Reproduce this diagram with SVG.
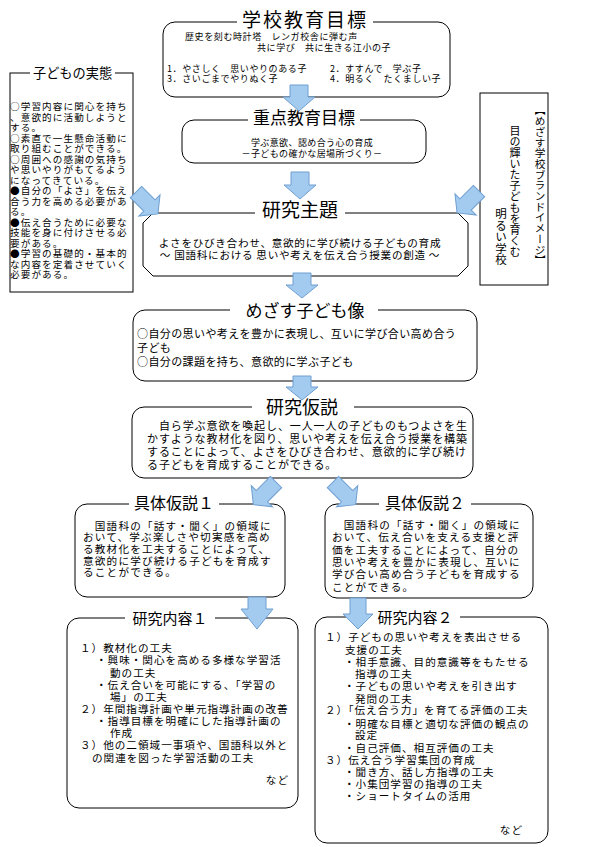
<svg xmlns="http://www.w3.org/2000/svg" width="600" height="847" viewBox="0 0 600 847">
<style>
.box{fill:#fff;stroke:#000;stroke-width:1}
.bg{fill:#fff}
text{font-family:"Noto Sans CJK JP","Noto Sans CJK SC",sans-serif;fill:#000}
.ttl{text-anchor:middle}
.arr{fill:#a3cbf0;stroke:#6f9fd0;stroke-width:1}
.vt{writing-mode:vertical-rl}
</style>
<defs>
<path id="d31" d="M-8,0 H8 V19 H15 L0,31 L-15,19 H-8 Z"/>
<path id="d32" d="M-8,0 H8 V20 H15 L0,32 L-15,20 H-8 Z"/>
</defs>
<rect width="600" height="847" fill="#fff"/>

<g id="gakko">
<rect class="box" x="163" y="22" width="287" height="75" rx="12"/>
<rect class="bg" x="237" y="11" width="136" height="20"/>
<text class="ttl" x="305" y="27" font-size="19" letter-spacing="2">学校教育目標</text>
<g font-size="9" letter-spacing="0.6">
<text x="185" y="40">歴史を刻む時計塔　レンガ校舎に弾む声</text>
<text x="257" y="51">共に学び　共に生きる江小の子</text>
<text x="167" y="72">1．やさしく　思いやりのある子</text>
<text x="330" y="72">2．すすんで　学ぶ子</text>
<text x="167" y="82">3．さいごまでやりぬく子</text>
<text x="330" y="82">4．明るく　たくましい子</text>
</g>
</g>

<g id="juten">
<rect class="box" x="182" y="120" width="244" height="43" rx="12"/>
<rect class="bg" x="248" y="108" width="112" height="20"/>
<text class="ttl" x="304" y="123.5" font-size="17">重点教育目標</text>
<text class="ttl" x="312" y="146" font-size="9" letter-spacing="0.4">学ぶ意欲、認め合う心の育成</text>
<text class="ttl" x="312" y="157" font-size="9" letter-spacing="0.4">－子どもの確かな居場所づくり－</text>
</g>

<g id="jittai">
<rect class="box" x="10" y="73" width="123" height="219"/>
<rect class="bg" x="30" y="64" width="85" height="18"/>
<text x="33" y="78" font-size="13.2">子どもの実態</text>
<g font-size="9.6" letter-spacing="1.1">
<text x="10" y="110">○学習内容に関心を持ち</text>
<text x="10" y="120.5">、意欲的に活動しようと</text>
<text x="10" y="131">する。</text>
<text x="10" y="141.5">○素直で一生懸命活動に</text>
<text x="10" y="152">取り組むことができる。</text>
<text x="10" y="162.5">○周囲への感謝の気持ち</text>
<text x="10" y="173">や思いやりがもてるよう</text>
<text x="10" y="183.5">になってきている。</text>
<text x="10" y="194">●自分の「よさ」を伝え</text>
<text x="10" y="204.5">合う力を高める必要があ</text>
<text x="10" y="215">る。</text>
<text x="10" y="225.5">●伝え合うために必要な</text>
<text x="10" y="236">技能を身に付けさせる必</text>
<text x="10" y="246.5">要がある。</text>
<text x="10" y="257">●学習の基礎的・基本的</text>
<text x="10" y="267.5">な内容を定着させていく</text>
<text x="10" y="278">必要がある。</text>
</g>
</g>

<g id="brand">
<rect class="box" x="480" y="93" width="68" height="192"/>
<text class="vt" x="540" y="105" font-size="10.7">【めざす学校ブランドイメージ】</text>
<text class="vt" x="515" y="125" font-size="11">目の輝いた子どもを育くむ</text>
<text class="vt" x="501" y="208" font-size="11.5">明るい学校</text>
</g>

<g id="shudai">
<polygon class="box" points="153,213 458,213 468,223 468,266 458,276 153,276 143,266 143,223"/>
<rect class="bg" x="255" y="200" width="90" height="20"/>
<text class="ttl" x="300" y="217" font-size="19">研究主題</text>
<text class="ttl" x="300" y="247" font-size="10.6" letter-spacing="0.7">よさをひびき合わせ、意欲的に学び続ける子どもの育成</text>
<text class="ttl" x="300" y="259" font-size="10.6" letter-spacing="0.7">～ 国語科における 思いや考えを伝え合う授業の創造 ～</text>
</g>

<g id="mezasu">
<rect class="box" x="133" y="310" width="344" height="71" rx="12"/>
<rect class="bg" x="230" y="299" width="148" height="20"/>
<text class="ttl" x="305" y="316.5" font-size="17">めざす子ども像</text>
<g font-size="11" letter-spacing="0.4">
<text x="137" y="337.5">○自分の思いや考えを豊かに表現し、互いに学び合い高め合う</text>
<text x="137" y="351.5">子ども</text>
<text x="137" y="365.5">○自分の課題を持ち、意欲的に学ぶ子ども</text>
</g>
</g>

<g id="kasetsu">
<rect class="box" x="132" y="407" width="341" height="71" rx="12"/>
<rect class="bg" x="252" y="396" width="102" height="20"/>
<text class="ttl" x="302" y="414" font-size="18">研究仮説</text>
<g font-size="11" letter-spacing="0.9">
<text x="147" y="429.5">　自ら学ぶ意欲を喚起し、一人一人の子どものもつよさを生</text>
<text x="147" y="443">かすような教材化を図り、思いや考えを伝え合う授業を構築</text>
<text x="147" y="456">することによって、よさをひびき合わせ、意欲的に学び続け</text>
<text x="147" y="468.5">る子どもを育成することができる。</text>
</g>
</g>

<g id="gutai1">
<rect class="box" x="75" y="504" width="210" height="93" rx="12"/>
<rect class="bg" x="129" y="494" width="90" height="18"/>
<text class="ttl" x="174" y="509" font-size="16">具体仮説１</text>
<g font-size="10.6" letter-spacing="1.2">
<text x="83" y="529.5">　国語科の「話す・聞く」の領域に</text>
<text x="83" y="541">おいて、学ぶ楽しさや切実感を高め</text>
<text x="83" y="553">る教材化を工夫することによって、</text>
<text x="83" y="564.5">意欲的に学び続ける子どもを育成す</text>
<text x="83" y="576">ることができる。</text>
</g>
</g>

<g id="gutai2">
<rect class="box" x="325" y="504" width="208" height="94" rx="12"/>
<rect class="bg" x="379" y="494" width="92" height="18"/>
<text class="ttl" x="425" y="509" font-size="16">具体仮説２</text>
<g font-size="10.6" letter-spacing="1.2">
<text x="332" y="528.5">　国語科の「話す・聞く」の領域に</text>
<text x="332" y="541">おいて、伝え合いを支える支援と評</text>
<text x="332" y="553.5">価を工夫することによって、自分の</text>
<text x="332" y="565.5">思いや考えを豊かに表現し、互いに</text>
<text x="332" y="578">学び合い高め合う子どもを育成する</text>
<text x="332" y="590.5">ことができる。</text>
</g>
</g>

<g id="naiyou1">
<rect class="box" x="67" y="618" width="231" height="190" rx="12"/>
<rect class="bg" x="125" y="609" width="90" height="18"/>
<text class="ttl" x="170" y="623.7" font-size="15">研究内容１</text>
<g font-size="10.6" letter-spacing="1">
<text x="80" y="651.7">１）教材化の工夫</text>
<text x="96" y="664.4">・興味・関心を高める多様な学習活</text>
<text x="110" y="676.7">動の工夫</text>
<text x="96" y="689.4">・伝え合いを可能にする、「学習の</text>
<text x="110" y="701">場」の工夫</text>
<text x="80" y="712.7">２）年間指導計画や単元指導計画の改善</text>
<text x="96" y="725.4">・指導目標を明確にした指導計画の</text>
<text x="110" y="736.7">作成</text>
<text x="80" y="749.4">３）他の二領域一事項や、国語科以外と</text>
<text x="92" y="761.7">の関連を図った学習活動の工夫</text>
<text x="289" y="784.4" text-anchor="end">など</text>
</g>
</g>

<g id="naiyou2">
<rect class="box" x="315" y="617" width="233" height="226" rx="12"/>
<rect class="bg" x="370" y="608" width="90" height="18"/>
<text class="ttl" x="415" y="622.7" font-size="15">研究内容２</text>
<g font-size="10.6" letter-spacing="1">
<text x="325" y="641">１）子どもの思いや考えを表出させる</text>
<text x="345" y="653.7">支援の工夫</text>
<text x="344" y="666">・相手意識、目的意識等をもたせる</text>
<text x="355" y="677.7">指導の工夫</text>
<text x="344" y="690.4">・子どもの思いや考えを引き出す</text>
<text x="355" y="702.7">発問の工夫</text>
<text x="325" y="714.4">２）「伝え合う力」を育てる評価の工夫</text>
<text x="344" y="727.7">・明確な目標と適切な評価の観点の</text>
<text x="355" y="739.4">設定</text>
<text x="344" y="751.7">・自己評価、相互評価の工夫</text>
<text x="325" y="764.4">３）伝え合う学習集団の育成</text>
<text x="344" y="776">・聞き方、話し方指導の工夫</text>
<text x="344" y="788.4">・小集団学習の指導の工夫</text>
<text x="344" y="800.4">・ショートタイムの活用</text>
<text x="523" y="834.4" text-anchor="end">など</text>
</g>
</g>

<g id="connectors">
<path class="arr" d="M290,85 H308 V97 H315 L299,111 L283,97 H290 Z"/>
<path class="arr" d="M291,172 H309 V185 H316 L300,199 L284,185 H291 Z"/>
<path class="arr" d="M293,273 H311 V285 H318 L302,298 L286,285 H293 Z"/>
<path class="arr" d="M293,376 H311 V387 H318 L302,400 L286,387 H293 Z"/>
<path class="arr" d="M248,597 H266 V609 H273 L257,629 L241,609 H248 Z"/>
<path class="arr" d="M350,598 H366 V614 H373 L358,629 L343,614 H350 Z"/>
<use class="arr" href="#d31" transform="translate(136,192) rotate(-45)"/>
<use class="arr" href="#d31" transform="translate(479,191) rotate(45)"/>
<use class="arr" href="#d32" transform="translate(276,482) rotate(45)"/>
<use class="arr" href="#d32" transform="translate(333,482) rotate(-45)"/>
</g>
</svg>
